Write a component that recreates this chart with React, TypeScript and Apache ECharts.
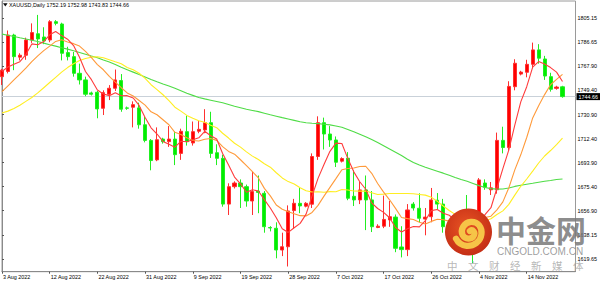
import React, { useEffect, useRef } from 'react';
import * as echarts from 'echarts';

const symbolName = 'XAUUSD,Daily';

const opens = [
  1760, 1764, 1792, 1775, 1776.5, 1788.2, 1793, 1790.5, 1788.2, 1802.3,
  1800.5, 1778.5, 1775.4, 1762.6, 1757.5, 1747.5, 1748, 1735.7, 1746.5, 1751.1,
  1757, 1736, 1736.5, 1736, 1723, 1711, 1696, 1712, 1710, 1712,
  1701, 1717.7, 1709, 1718, 1719, 1724.6, 1701.5, 1697.2, 1662, 1675.4,
  1678.2, 1675.4, 1664.4, 1672, 1670.3, 1644, 1643.4, 1626.7, 1629.2, 1657,
  1662.6, 1660.4, 1661.9, 1698.6, 1724.6, 1715.9, 1711.3, 1695, 1697.3, 1668,
  1665.2, 1672.9, 1665.2, 1644, 1645, 1649.8, 1652, 1629, 1627, 1662,
  1658.8, 1650.5, 1652.3, 1665, 1662, 1644.5, 1643, 1633, 1647, 1636,
  1629, 1678.2, 1673, 1673, 1711, 1705.5, 1752.3, 1762, 1763.4, 1769.5,
  1780.6, 1773.6, 1760, 1751, 1752.19,
];
const closes = [
  1765, 1792, 1775.4, 1776.5, 1788.2, 1793.9, 1789, 1787.5, 1802.3, 1801,
  1778, 1775.4, 1762.6, 1757.5, 1746.5, 1746.5, 1735.2, 1747.7, 1751.1, 1757.5,
  1735, 1735.7, 1738.5, 1723, 1711, 1695.5, 1711.5, 1710, 1712, 1700,
  1718, 1710, 1717.7, 1719.5, 1724.6, 1701, 1697.2, 1662, 1675.4, 1678.2,
  1675.4, 1664.4, 1671.6, 1671, 1644.6, 1643.6, 1626.7, 1629.2, 1656.7, 1662.6,
  1660.6, 1662.6, 1698.6, 1724.6, 1715.9, 1711.3, 1694.2, 1697, 1666.5, 1665.2,
  1672.9, 1665.2, 1644.6, 1645, 1650.2, 1652.3, 1628, 1627, 1657.5, 1659,
  1651.1, 1652, 1665.2, 1662, 1644.6, 1643, 1633, 1648, 1636, 1630,
  1680.6, 1675, 1674.5, 1711, 1705.5, 1752.5, 1770.3, 1763.5, 1769.5, 1780.6,
  1774.2, 1760.5, 1750.3, 1752, 1744.66,
];
const lows = [
  1753.6, 1762.5, 1765, 1772.5, 1773, 1786, 1782, 1785, 1786.5, 1799.5,
  1772.5, 1772.5, 1760, 1754, 1745, 1745.5, 1728, 1730.5, 1742, 1749,
  1733, 1734.5, 1721, 1720, 1709.5, 1688, 1695, 1708.5, 1706, 1692,
  1696, 1707, 1707, 1716.5, 1716.5, 1697.5, 1692, 1660, 1653.6, 1674,
  1659, 1660, 1653.6, 1655, 1640, 1641, 1620.3, 1622, 1614, 1643,
  1655, 1659.5, 1659, 1696, 1704, 1706, 1690.5, 1694, 1665, 1660.5,
  1662, 1642, 1640.5, 1643.5, 1643.5, 1644.5, 1625, 1621, 1622, 1657,
  1648, 1638, 1648, 1658, 1640, 1641.5, 1628, 1630.5, 1634, 1616.5,
  1626, 1673, 1669, 1670, 1701, 1703, 1749.5, 1761, 1759.5, 1766.5,
  1770, 1757.5, 1748.5, 1750, 1743.83,
];
const highs = [
  1766, 1795.5, 1793, 1778, 1790, 1801, 1807.5, 1798, 1803.5, 1803.5,
  1801.5, 1783, 1779, 1770, 1760, 1748.5, 1749, 1749.5, 1753.5, 1765.5,
  1762, 1737, 1741, 1740, 1729, 1712, 1721, 1713, 1722, 1718,
  1720, 1730, 1725.5, 1726, 1735, 1733, 1708, 1700, 1678, 1679.5,
  1681, 1677, 1687, 1684, 1672, 1645, 1648, 1640, 1661, 1666,
  1674.5, 1663.5, 1701, 1729.5, 1728.5, 1722, 1714, 1698, 1702, 1688,
  1679, 1684, 1672, 1646.5, 1668.5, 1664.5, 1654, 1645, 1662, 1663.5,
  1670.3, 1659, 1674.4, 1670.5, 1666, 1646, 1650, 1651, 1669, 1639,
  1682, 1681, 1679, 1717, 1721.5, 1756.5, 1773.4, 1764.5, 1773, 1786.2,
  1785, 1776, 1763, 1753, 1752.98,
];

const ma5 = [
  1764, 1767.5, 1769.5, 1771.5, 1777, 1785.2, 1784.6, 1787.0, 1792.2, 1794.7,
  1791.6, 1788.8, 1783.9, 1774.9, 1764.0, 1757.7, 1749.7, 1746.7, 1745.4, 1747.6,
  1745.3, 1745.4, 1743.6, 1737.9, 1728.6, 1720.7, 1715.9, 1710.2, 1708.0, 1705.8,
  1710.3, 1710.0, 1711.5, 1713.0, 1718.0, 1714.6, 1712.0, 1700.9, 1692.0, 1682.8,
  1677.6, 1671.1, 1673.0, 1672.1, 1665.4, 1659.0, 1651.5, 1643.0, 1640.2, 1643.8,
  1647.2, 1654.3, 1668.2, 1681.8, 1692.5, 1702.6, 1708.9, 1708.6, 1697.0, 1686.8,
  1679.2, 1673.4, 1662.9, 1658.6, 1655.6, 1651.5, 1644.0, 1640.5, 1643.0, 1644.8,
  1644.5, 1649.3, 1657.0, 1657.9, 1655.0, 1653.4, 1649.6, 1646.1, 1640.9, 1638.0,
  1645.5, 1653.9, 1659.2, 1674.2, 1689.3, 1703.7, 1722.8, 1740.6, 1752.3, 1767.3,
  1771.6, 1769.7, 1767.0, 1763.5, 1756.3,
];
const ma10 = [
  1748.5, 1753, 1757.5, 1762, 1766.5, 1771.5, 1776, 1780, 1783.5, 1787.1,
  1788.4, 1786.7, 1785.4, 1783.5, 1779.4, 1774.6, 1769.3, 1765.3, 1760.2, 1755.8,
  1751.5, 1747.5, 1745.1, 1741.7, 1738.1, 1733.0, 1730.7, 1726.9, 1723.0, 1717.2,
  1715.5, 1713.0, 1710.9, 1710.5, 1711.9, 1712.4, 1711.0, 1706.2, 1702.5, 1700.4,
  1696.1, 1691.5, 1686.9, 1682.1, 1674.1, 1668.3, 1661.3, 1658.0, 1656.1, 1654.6,
  1653.1, 1652.9, 1655.6, 1661.0, 1668.1, 1674.9, 1681.6, 1688.4, 1689.4, 1689.7,
  1690.9, 1691.1, 1685.7, 1677.8, 1671.2, 1665.3, 1658.7, 1651.7, 1650.8, 1650.2,
  1648.0, 1646.7, 1648.7, 1650.4, 1649.9, 1648.9, 1649.4, 1651.5, 1649.4, 1646.5,
  1649.4, 1651.7, 1652.7, 1657.6, 1663.7, 1674.6, 1688.3, 1699.9, 1713.2, 1728.3,
  1737.7, 1746.2, 1753.8, 1757.9, 1761.8,
];
const ma20 = [
  1732, 1733.5, 1735.5, 1738, 1741, 1744, 1747.5, 1751.5, 1755.5, 1759.5,
  1763.5, 1767, 1770, 1772.5, 1774, 1775, 1775.3, 1774.5, 1773, 1771.4,
  1769.9, 1767.1, 1765.3, 1762.6, 1758.7, 1753.8, 1750.0, 1746.1, 1741.6, 1736.5,
  1733.5, 1730.2, 1728.0, 1726.1, 1725.0, 1722.7, 1720.8, 1716.5, 1712.8, 1708.8,
  1705.8, 1702.2, 1698.9, 1696.3, 1693.0, 1690.4, 1686.1, 1682.1, 1679.3, 1677.5,
  1674.6, 1672.2, 1671.3, 1671.5, 1671.1, 1671.6, 1671.5, 1673.2, 1672.8, 1672.1,
  1672.0, 1672.0, 1670.7, 1669.4, 1669.7, 1670.1, 1670.2, 1670.1, 1670.1, 1669.9,
  1669.4, 1668.9, 1667.2, 1664.1, 1660.5, 1657.1, 1654.1, 1651.6, 1650.1, 1648.3,
  1648.7, 1649.2, 1650.7, 1654.0, 1656.8, 1661.8, 1668.9, 1675.7, 1681.3, 1687.4,
  1693.6, 1699.0, 1703.2, 1707.7, 1712.7,
];
const ma60 = [
  1792.7, 1791.8, 1790.9, 1789.9, 1789.0, 1788.0, 1787.0, 1785.8, 1784.6, 1783.5,
  1782.3, 1781.2, 1779.9, 1778.6, 1777.3, 1775.9, 1774.6, 1772.9, 1771.3, 1769.4,
  1767.3, 1765.4, 1763.5, 1761.6, 1759.8, 1757.9, 1756.1, 1754.4, 1752.9, 1751.1,
  1749.2, 1747.2, 1745.6, 1744.0, 1742.9, 1741.9, 1740.9, 1739.9, 1738.6, 1737.3,
  1736.1, 1734.9, 1734.0, 1733.1, 1731.9, 1730.7, 1729.6, 1728.5, 1727.5, 1726.4,
  1725.3, 1724.6, 1724.2, 1723.9, 1723.4, 1722.9, 1722.1, 1721.1, 1719.4, 1717.6,
  1715.8, 1713.8, 1711.7, 1709.4, 1706.9, 1704.4, 1701.9, 1699.4, 1696.5, 1694.0,
  1692.0, 1690.3, 1688.8, 1687.3, 1685.8, 1684.2, 1682.5, 1680.9, 1679.6, 1677.9,
  1676.2, 1674.8, 1673.9, 1673.5, 1673.6, 1674.4, 1675.6, 1676.5, 1677.3, 1678.0,
  1678.8, 1679.6, 1680.2, 1680.9, 1681.3,
];

const dateLabels = [
  '3 Aug 2022', '12 Aug 2022', '22 Aug 2022', '31 Aug 2022', '9 Sep 2022', '19 Sep 2022',
  '28 Sep 2022', '7 Oct 2022', '17 Oct 2022', '26 Oct 2022', '4 Nov 2022', '14 Nov 2022',
];
const dateLabelBars = [0, 8, 16, 24, 32, 40, 48, 56, 64, 72, 80, 88];
const priceTicks = [1619.65, 1638.15, 1656.9, 1675.4, 1693.9, 1712.4, 1730.9, 1749.4, 1767.9, 1786.65, 1805.15];

const FONT = 'Liberation Sans';
const FS = 5.4;

echarts.graphic.registerShape(
  'cngoldSwirl',
  echarts.graphic.extendPath(
    'M54 50 C60 46 66 53 62 60 C57 68 44 68 39 59 C33 47 42 32 56 31 C71 30 80 43 78 57 C76 72 62 82 47 81 C36 80 29 74 25 66',
    {}
  ) as any
);

export default function App() {
  const ref = useRef<HTMLDivElement>(null);
  useEffect(() => {
    if (!ref.current) return;
    const chart = echarts.init(ref.current, undefined, { renderer: 'svg' });
    const n = closes.length;
    const last = n - 1;
    const header = `${symbolName} ${opens[last].toFixed(2)} ${highs[last].toFixed(2)} ${lows[last].toFixed(2)} ${closes[last].toFixed(2)}`;
    const candleData = opens.map((o, i) => [i, o, closes[i], lows[i], highs[i]]);
    const toXY = (arr: number[]) => arr.map((v, i) => [i, v]);
    const lineSeries = (name: string, arr: number[], color: string) => ({
      name,
      type: 'line',
      data: toXY(arr),
      showSymbol: false,
      symbol: 'none',
      smooth: false,
      lineStyle: { color, width: 1.1 },
      z: 3,
      silent: true,
    });

    const option: any = {
      animation: false,
      backgroundColor: '#ffffff',
      textStyle: { fontFamily: FONT },
      title: {
        text: header,
        left: 9,
        top: 2.2,
        padding: 0,
        textStyle: { fontSize: FS, fontWeight: 'normal', color: '#000', fontFamily: FONT },
      },
      grid: {
        left: 1,
        right: 26.5,
        top: 1,
        bottom: 11.3,
        show: true,
        borderColor: '#9a9a9a',
        borderWidth: 1,
        backgroundColor: 'transparent',
      },
      xAxis: {
        type: 'value',
        min: 0,
        max: 96.18,
        splitLine: { show: false },
        axisLine: { show: true, onZero: false, lineStyle: { color: '#8a8a8a', width: 1 } },
        axisTick: { show: true, customValues: dateLabelBars, length: 2, lineStyle: { color: '#555' } },
        axisLabel: {
          customValues: dateLabelBars,
          formatter: (v: number) => {
            const k = dateLabelBars.indexOf(Math.round(v));
            return k >= 0 ? dateLabels[k] : '';
          },
          align: 'left',
          margin: 3,
          fontSize: FS,
          color: '#000',
          fontFamily: FONT,
          padding: [0, 0, 0, 1],
        },
      },
      yAxis: {
        type: 'value',
        position: 'right',
        min: 1610.0,
        max: 1818.2,
        scale: true,
        splitLine: { show: false },
        axisLine: { show: true, lineStyle: { color: '#8a8a8a', width: 1 } },
        axisTick: { show: true, customValues: priceTicks, length: 2, lineStyle: { color: '#555' } },
        axisLabel: {
          customValues: priceTicks,
          formatter: (v: number) => v.toFixed(2),
          margin: 2,
          fontSize: FS,
          color: '#000',
          fontFamily: FONT,
        },
      },
      series: [
        {
          name: 'price',
          type: 'candlestick',
          data: candleData,
          encode: { x: 0, y: [1, 2, 3, 4] },
          barWidth: 3.6,
          z: 2,
          itemStyle: {
            color: '#ff0000',
            color0: '#00ee00',
            borderColor: '#ff3030',
            borderColor0: '#22ee22',
            borderWidth: 1,
          },
          markLine: {
            silent: true,
            symbol: ['none', 'none'],
            z: 1,
            data: [{ yAxis: closes[last] }],
            lineStyle: { color: '#c9d1d9', width: 1, type: 'solid' },
            label: {
              show: true,
              position: 'end',
              distance: 1,
              formatter: closes[last].toFixed(2),
              backgroundColor: '#000',
              color: '#fff',
              fontSize: FS,
              fontFamily: FONT,
              padding: [1, 2, 1, 2],
            },
          },
        },
        lineSeries('MA60', ma60, '#4fdc46'),
        lineSeries('MA20', ma20, '#ffee22'),
        lineSeries('MA10', ma10, '#ff9a3a'),
        lineSeries('MA5', ma5, '#ff3c3c'),
      ],
      graphic: [
        {
          type: 'polygon',
          shape: { points: [[3, 3.2], [7.6, 3.2], [5.3, 6.4]] },
          style: { fill: '#111' },
          z: 10,
        },
        {
          type: 'circle',
          z: 20,
          shape: { cx: 468.5, cy: 232, r: 23.5 },
          style: {
            fill: new echarts.graphic.RadialGradient(0.45, 0.4, 0.7, [
              { offset: 0, color: '#e85424' },
              { offset: 1, color: '#bf2813' },
            ]),
          },
        },
        {
          type: 'cngoldSwirl',
          z: 21,
          x: 444,
          y: 207,
          scaleX: 0.48,
          scaleY: 0.48,
          style: {
            fill: null,
            lineWidth: 13,
            lineCap: 'round',
            stroke: '#f6c447',
          },
        },
        {
          type: 'text',
          z: 21,
          x: 496,
          y: 229,
          style: {
            text: '中金网',
            fontSize: 30,
            fontWeight: 'bold',
            fontFamily: 'Noto Sans CJK SC',
            fill: 'rgba(120,120,120,0.85)',
            verticalAlign: 'middle',
          },
        },
        {
          type: 'text',
          z: 21,
          x: 497,
          y: 251.5,
          style: {
            text: 'CNGOLD.COM.CN',
            fontSize: 10,
            fontFamily: FONT,
            fill: 'rgba(140,140,140,0.85)',
            verticalAlign: 'middle',
          },
        },
        {
          type: 'text',
          z: 21,
          x: 447,
          y: 265,
          style: {
            text: '中　文　财　经　新　媒　体',
            fontSize: 10.5,
            fontFamily: 'Noto Sans CJK SC',
            fill: 'rgba(170,170,170,0.85)',
            verticalAlign: 'middle',
          },
        },
      ],
    };
    chart.setOption(option);
    return () => chart.dispose();
  }, []);
  return (
    <div
      ref={ref}
      style={{ position: 'fixed', left: 0, top: 0, width: 602, height: 283, background: '#fff' }}
    />
  );
}
